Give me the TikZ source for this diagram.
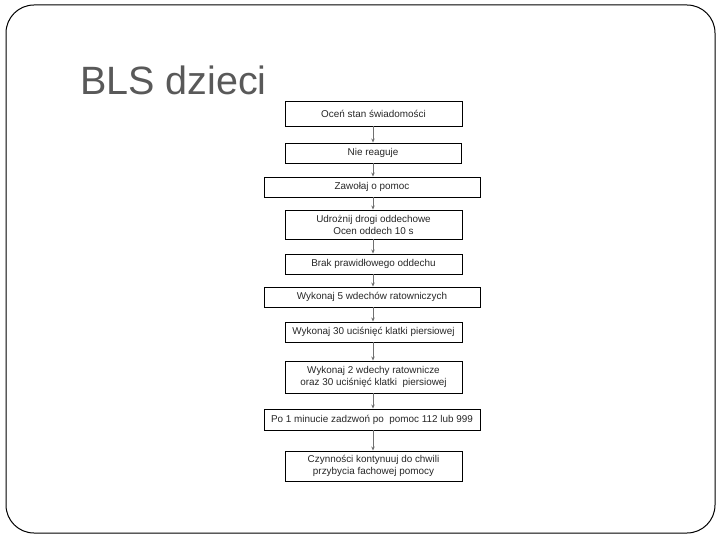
\documentclass[tikz,border=0pt]{standalone}
\usepackage{fontspec}
\setmainfont{Liberation Sans}
\usetikzlibrary{arrows.meta}
\definecolor{titlegray}{HTML}{595959}
\definecolor{arrowgray}{HTML}{707070}
\tikzset{
  stepbox/.style={draw=black, line width=0.9pt, inner sep=0pt, align=center,
    font=\fontsize{9.9}{12}\selectfont, text=black!85},
  flow/.style={draw=arrowgray, line width=0.8pt, -{Stealth[length=4pt,width=3.5pt]}},
}
\begin{document}
\begin{tikzpicture}[x=1pt,y=-1pt]
\useasboundingbox (0,0) rectangle (720,540);
\draw[line width=1pt, rounded corners=28pt] (6,5) rectangle (715,533);
\node[anchor=base west, inner sep=0pt, text=titlegray, font=\fontsize{39.5}{42}\selectfont] (title) at (80,95) {BLS dzieci};
\node[stepbox, minimum width=177pt, minimum height=25pt] (b1) at (373.5,113.5) {Oceń stan świadomości};
\node[stepbox, minimum width=176pt, minimum height=20pt] (b2) at (373,153) {Nie reaguje};
\node[stepbox, minimum width=216pt, minimum height=20pt] (b3) at (372,187) {Zawołaj o pomoc};
\node[stepbox, minimum width=177pt, minimum height=29pt] (b4) at (373.5,224.5) {Udrożnij drogi oddechowe\\Ocen oddech 10 s};
\node[stepbox, minimum width=177pt, minimum height=20pt] (b5) at (373.5,264) {Brak prawidłowego oddechu};
\node[stepbox, minimum width=216pt, minimum height=20pt] (b6) at (372,297) {Wykonaj 5 wdechów ratowniczych};
\node[stepbox, minimum width=177pt, minimum height=20pt] (b7) at (373.5,332) {Wykonaj 30 uciśnięć klatki piersiowej};
\node[stepbox, minimum width=177pt, minimum height=32pt] (b8) at (373.5,377) {Wykonaj 2 wdechy ratownicze\\oraz 30 uciśnięć klatki\ \ piersiowej};
\node[stepbox, minimum width=216pt, minimum height=21pt] (b9) at (372,419.5) {Po 1 minucie zadzwoń po\ \ pomoc 112 lub 999};
\node[stepbox, minimum width=177pt, minimum height=30pt] (b10) at (373.5,466) {Czynności kontynuuj do chwili\\przybycia fachowej pomocy};
\foreach \a/\b in {b1/b2,b2/b3,b3/b4,b4/b5,b5/b6,b6/b7,b7/b8,b8/b9,b9/b10}{
  \draw[flow] (\a.south -| 373,0) -- (\b.north -| 373,0);
}
\end{tikzpicture}
\end{document}
